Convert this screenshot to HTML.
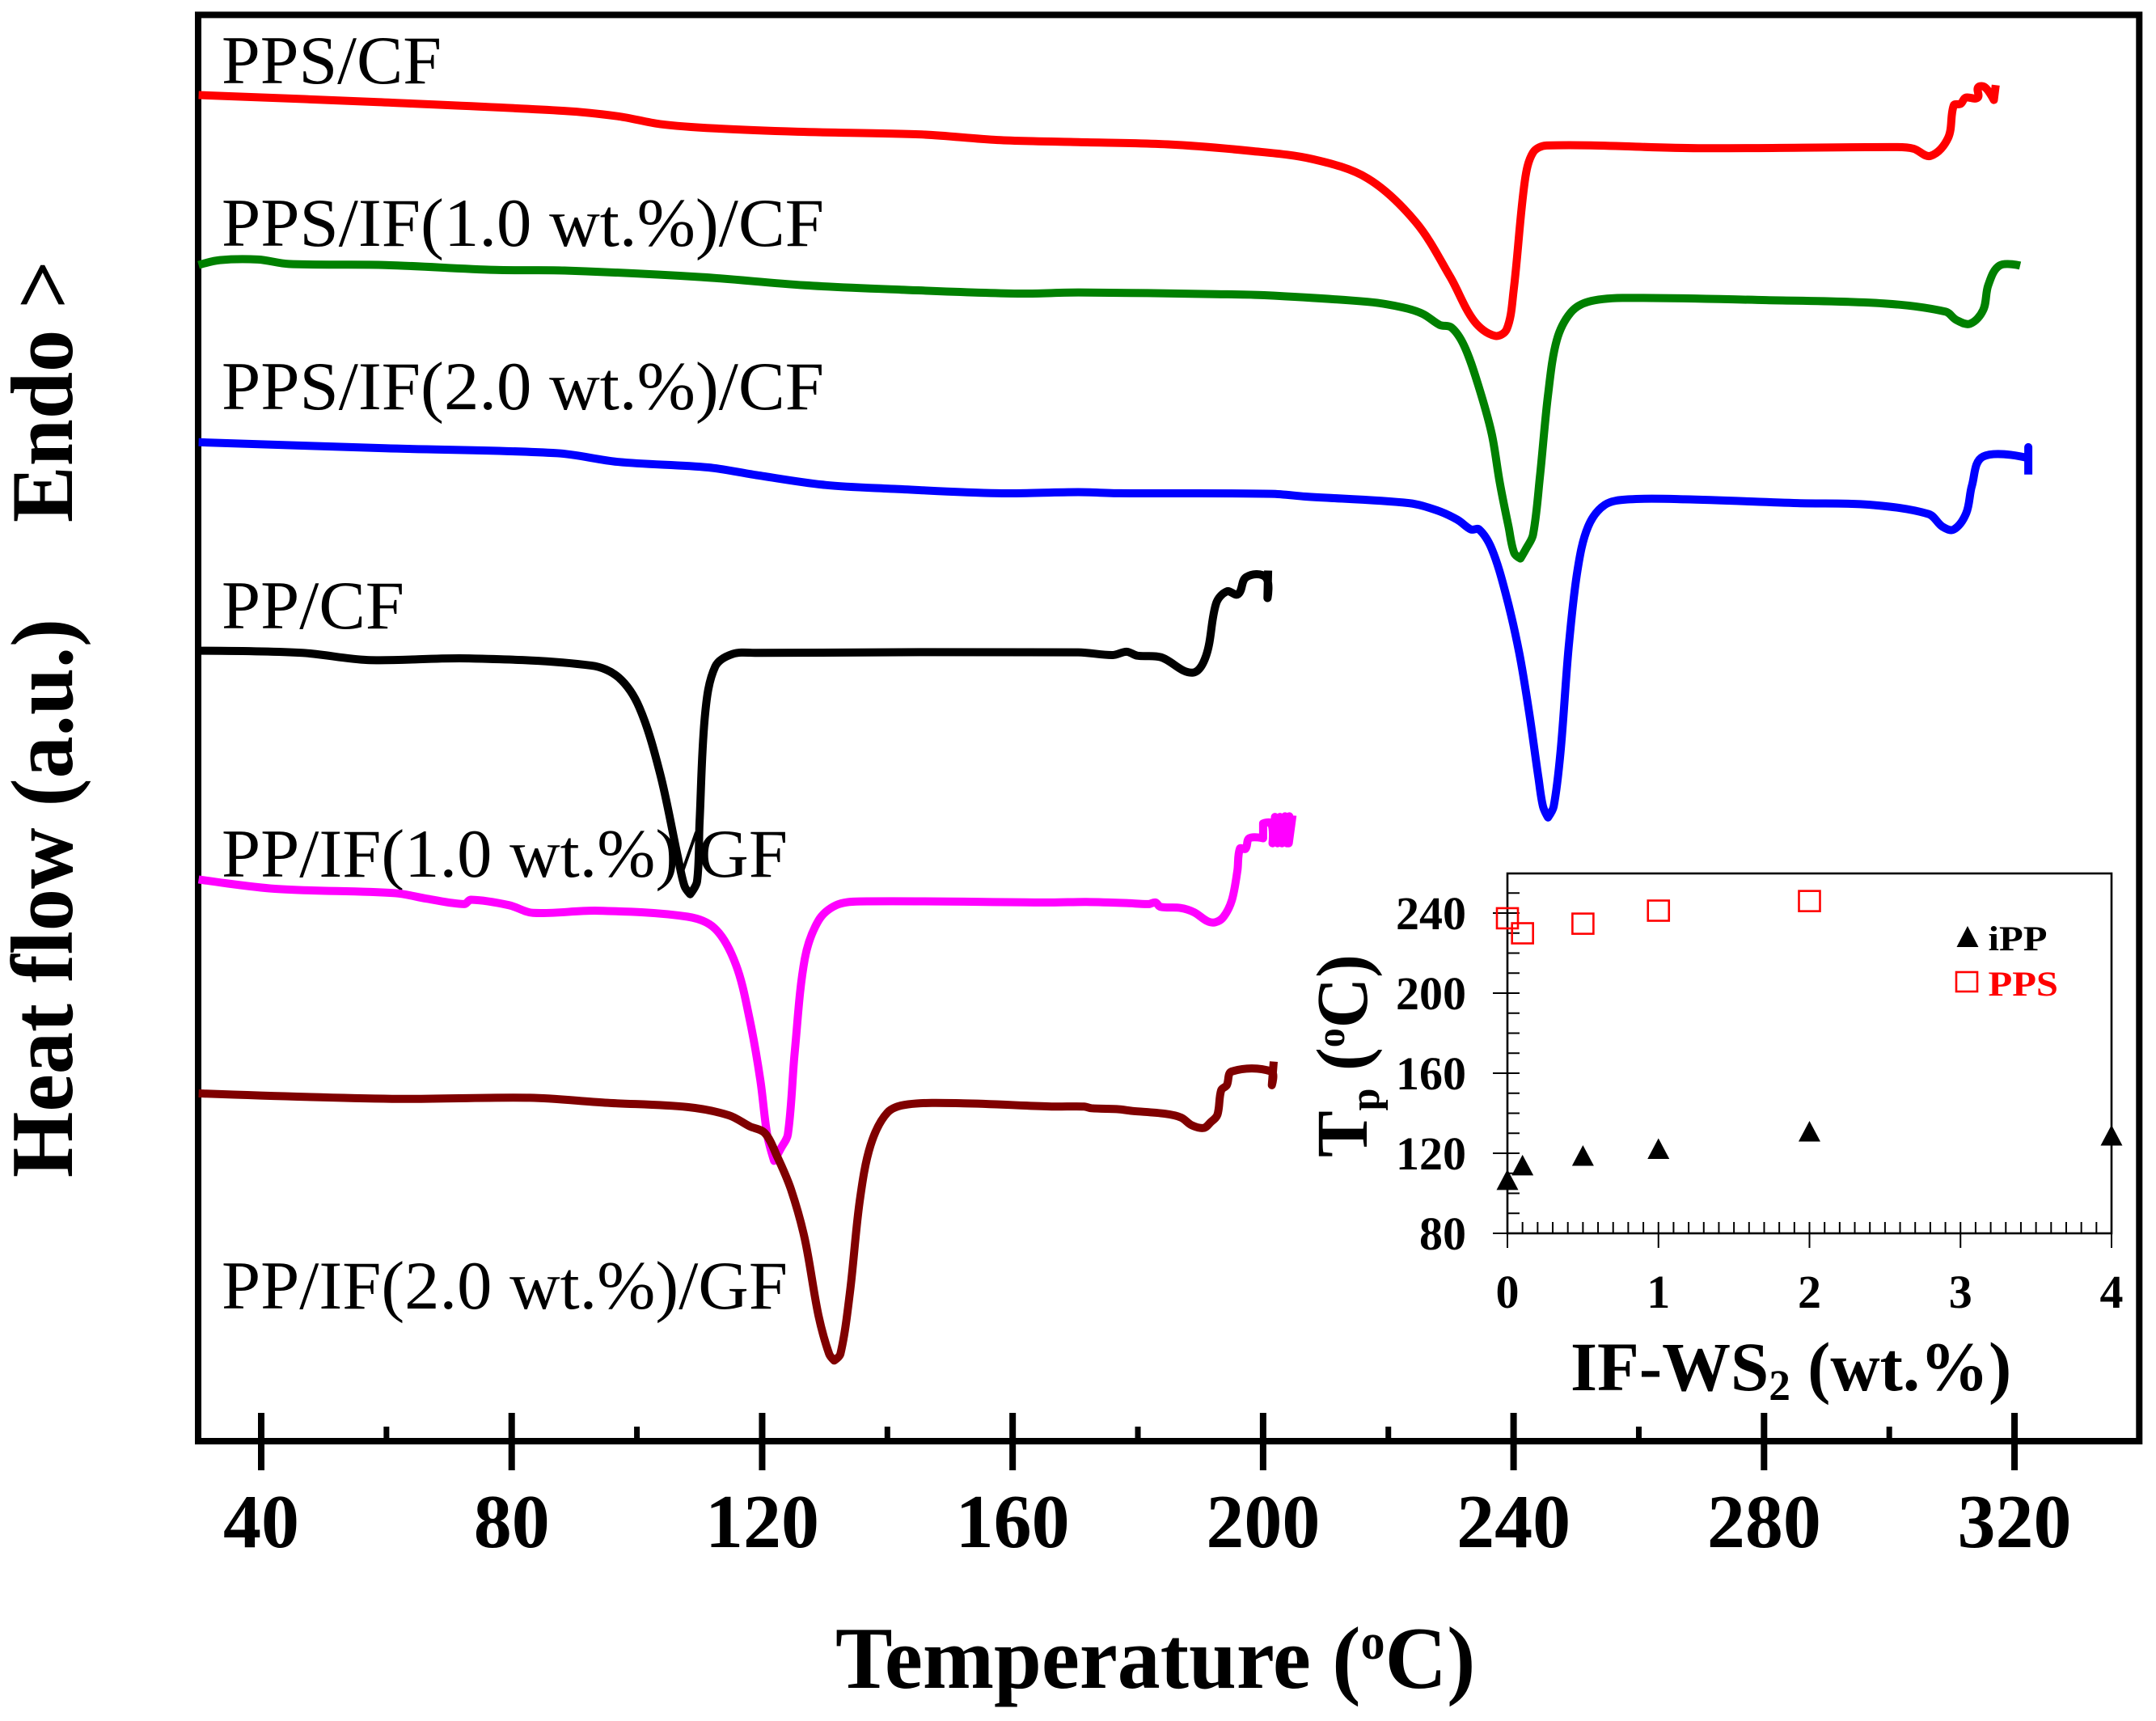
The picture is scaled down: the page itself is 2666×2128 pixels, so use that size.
<!DOCTYPE html>
<html>
<head>
<meta charset="utf-8">
<style>
html,body{margin:0;padding:0;background:#fff;}
svg{display:block;}
text{font-family:"Liberation Serif",serif;fill:#000;}
.b{font-weight:bold;}
.lab{font-size:85px;}
</style>
</head>
<body>
<svg id="chart" width="2666" height="2128" viewBox="0 0 2666 2128" xmlns="http://www.w3.org/2000/svg">
<rect x="0" y="0" width="2666" height="2128" fill="#fff"/>
<text class="lab" x="274" y="103" textLength="272" lengthAdjust="spacingAndGlyphs">PPS/CF</text>
<text class="lab" x="274" y="304" textLength="745" lengthAdjust="spacingAndGlyphs">PPS/IF(1.0 wt.%)/CF</text>
<text class="lab" x="274" y="506" textLength="745" lengthAdjust="spacingAndGlyphs">PPS/IF(2.0 wt.%)/CF</text>
<text class="lab" x="274" y="777" textLength="226" lengthAdjust="spacingAndGlyphs">PP/CF</text>
<text class="lab" x="274" y="1084" textLength="700" lengthAdjust="spacingAndGlyphs">PP/IF(1.0 wt.%)/GF</text>
<text class="lab" x="274" y="1618" textLength="700" lengthAdjust="spacingAndGlyphs">PP/IF(2.0 wt.%)/GF</text>
<g id="main-ticks"></g>
<rect x="245" y="18.4" width="2400.3" height="1763.6" fill="none" stroke="#000" stroke-width="8"/>
<g id="curves"></g>
<text class="b" transform="translate(1033,2087) scale(0.971,1)" x="0" y="0" font-size="109">Temperature (<tspan font-size="62" dy="-36">o</tspan><tspan dy="36">C)</tspan></text>
<text class="b" transform="translate(89,1456) rotate(-90)" font-size="109" textLength="691" lengthAdjust="spacingAndGlyphs">Heat flow (a.u.)</text>
<text class="b" transform="translate(89,646) rotate(-90)" font-size="109" textLength="324" lengthAdjust="spacingAndGlyphs">Endo &gt;</text>
<rect x="1864" y="1080" width="747" height="445" fill="none" stroke="#000" stroke-width="2.6"/>
<g id="inset-ticks"></g>
<g id="inset-marks"></g>
<text class="b" transform="translate(1690,1431) rotate(-90) scale(0.96,1)" font-size="90">T<tspan font-size="52" dy="15">p</tspan><tspan dy="-15"> (</tspan><tspan font-size="50" dy="-28">o</tspan><tspan dy="28">C)</tspan></text>
<text class="b" transform="translate(1942,1719) scale(0.987,1)" x="0" y="0" font-size="86">IF-WS<tspan font-size="54" dy="12">2</tspan><tspan dy="-12"> (wt.%)</tspan></text>
<polygon points="2433,1145 2446.5,1171 2419.5,1171" fill="#000"/>
<text class="b" x="2458.5" y="1175" font-size="43" textLength="73" lengthAdjust="spacingAndGlyphs">iPP</text>
<rect x="2419" y="1202" width="26" height="24" fill="none" stroke="#f00" stroke-width="2.6"/>
<text class="b" x="2458.5" y="1231" font-size="43" textLength="86.5" lengthAdjust="spacingAndGlyphs" style="fill:#f00">PPS</text>
</svg>
<script>
var redT=[30,58.7,88.4,97.1,103.7,112.5,125.7,145.5,157.6,170.5,184.8,198,207.9,216.7,224.4,229.9,233.7,237,238.9,240,241.8,243.1,245.3,269.5,301.3,303.9,306.6,309.4,310.3,311.4,312.2,314.1,314.2,315.3,316.7,317];
var redFlow=[213.4,212.1,210.5,209.5,208.1,207.3,206.7,206.2,205.2,204.8,204.4,203.2,201.7,198.2,190.2,180.2,172.2,169.5,170.7,177.7,197.7,202.9,204.2,203.7,203.9,203.6,202.3,205.6,211.5,211.8,212.9,212.9,214.8,214.8,212.5,215.2];
var greenT=[30,33.4,39.5,44.4,59.8,77.4,88.4,110.3,126.8,142.2,160.9,170.5,192.5,200.2,216.7,222.2,225.5,228.2,230.1,232.1,234.3,236.5,237.8,239.2,240.1,241.1,242,243.1,244.2,245.5,246.9,249.1,251.9,257.4,280.4,299.1,309,310.7,312.9,315,315.8,317.6,320.9];
var greenFlow=[182.4,183.3,183.4,182.6,182.4,181.5,181.4,180.2,178.7,177.9,177.2,177.4,177.1,176.9,175.7,174.7,173.5,171.5,171,167.7,160.7,151.7,142.7,134.7,129.9,128.9,130.7,133.2,143.7,158.7,168.7,173.7,175.7,176.4,176,175.4,173.9,172.4,171.7,174.2,178.7,182.3,182.3];
var blueT=[30,59.8,87.3,97.1,111.4,119.1,130.1,141.1,157.6,170.5,177.1,201.3,206.8,223.3,227.7,231,233.2,234.5,236.5,238.7,240.9,242.5,244,244.7,245.5,246.4,247.5,248.8,250.2,251.9,254.6,258.5,267.3,285.4,296.9,306.3,308.5,310.3,312.3,313.2,315,322.2,322.2,322.2];
var blueFlow=[150.1,149,148.1,146.5,145.5,144.1,142.3,141.6,140.8,141,140.8,140.7,140.2,139,137.7,136,134.2,134.2,130.7,122.7,111.7,100.7,88.7,83.7,81.7,83.7,93.7,112.7,126.7,134.7,138.7,139.7,139.7,139,138.7,137,134.7,134.2,137.2,142.2,147.5,147.2,149.2,144.2];
var blackT=[30,46.6,57,73,92.7,97.1,100.4,103.7,106.5,107.6,108.5,109.6,110,110.9,112.5,115.3,119.1,170.5,176,178.2,179.9,183.7,188.7,190.9,192.5,194.2,196,197.3,200.4,200.7,200.8];
var blackFlow=[112.1,111.7,110.4,110.7,109.4,107.2,101.7,89.7,74.7,69.2,67.7,70,80.7,100.7,109.2,111.5,111.7,111.8,111.3,111.9,111.2,110.9,108.1,111.2,120.7,122.9,122.4,125.5,125.5,121.7,126.7];
var magentaT=[30,42.2,61.4,66.4,72.4,73.5,79.6,83.4,93.8,108.1,112.5,115.8,118,119.7,120.8,121.9,123,124.1,125.2,126.8,129,131.8,135.6,166.2,171.8,178.2,181.7,182.8,183.6,186.8,189,191.1,192.4,193.7,195,195.9,196.3,197.2,197.8,200,200,201.3,201.5,201.9,202.3,202.7,203,203.5,203.8,204.2,204.1,204.7];
var magentaFlow=[70.4,68.7,67.9,66.9,65.9,66.7,65.7,64.3,64.7,63.6,61.4,54.9,44.9,33.9,23.9,19.1,21.4,23.9,38.9,55.9,62.9,65.7,66.4,66.2,66.3,66.1,65.9,66.2,65.4,65.2,64.4,62.8,62.6,63.6,66.6,72,76,76,77.9,77.9,80.6,80.6,77,81.8,77,81.8,77,81.9,77,81.9,77,82.1];
var maroonT=[30,60.9,82.9,94.9,108.1,114.7,118,120.4,122.4,124.6,126.8,129,130.7,131.5,132.5,134,135.6,137.3,140,143.3,152.1,166.2,171.4,172.6,177,179.1,184.3,186.9,188.6,190.5,191.6,192.7,193.3,194.2,195,201.3,201.4,201.7];
var maroonFlow=[31.4,30.4,30.6,29.7,28.9,27.4,25.4,24.2,19.9,13.9,4.9,-9.1,-16.1,-17.3,-16.1,-5.1,11.9,21.9,27.9,29.4,29.6,29,29,28.7,28.5,28.2,27.7,27,25.6,25.1,26.1,27.5,31.95,32.9,35.4,35.4,32.9,37.2];
var mainMajorTicks=[40,80,120,160,200,240,280,320];
var mainMinorTicks=[60,100,140,180,220,260,300];
var insetXTicks=[0,1,2,3,4];
var insetYTicks=[80,120,160,200,240];
var insetLoad=[0,0.1,0.5,1,2,4];
var ippTp=[106.7,114,118.8,122.2,130.9,128.9];
var ppsLoad=[0,0.1,0.5,1,2];
var ppsTp=[237.4,229.9,234.7,241.2,246];

var NS='http://www.w3.org/2000/svg';
function xMain(t){return 323+(t-40)*7.743;}
function yMain(v){return 1782-(v+32)*6.783;}
function xIn(w){return 1864+w*186.75;}
function yIn(t){return 1525-(t-80)*2.475;}
function mk(tag,parent){var e=document.createElementNS(NS,tag);parent.appendChild(e);return e;}
function line(parent,x1,y1,x2,y2,w){
  var l=mk('line',parent);
  l.setAttribute('x1',x1);l.setAttribute('y1',y1);l.setAttribute('x2',x2);l.setAttribute('y2',y2);
  l.setAttribute('stroke','#000');l.setAttribute('stroke-width',w);
  
  
}
function label(parent,x,y,size,anchor,str){
  var t=mk('text',parent);
  t.setAttribute('x',x);t.setAttribute('y',y);t.setAttribute('font-size',size);
  t.setAttribute('text-anchor',anchor);t.setAttribute('class','b');
  
  
  t.textContent=str;
}
var mt=document.getElementById('main-ticks');
mainMajorTicks.forEach(function(t){
  line(mt,xMain(t),1747,xMain(t),1818,8);
  label(mt,xMain(t),1913,94,'middle',String(t));
});
mainMinorTicks.forEach(function(t){line(mt,xMain(t),1764,xMain(t),1782,7);});

// Smooth path through the points; sharp reversals are kept as corners.
function tangent(a,b,c){
  var ax=b[0]-a[0],ay=b[1]-a[1],cx=c[0]-b[0],cy=c[1]-b[1];
  if(ax*cx+ay*cy<=0)return null;
  var dx=c[0]-a[0],dy=c[1]-a[1],l=Math.sqrt(dx*dx+dy*dy);
  return l?[dx/l,dy/l]:null;
}
function smoothPath(pts){
  var d='M'+pts[0][0].toFixed(1)+' '+pts[0][1].toFixed(1);
  for(var i=0;i<pts.length-1;i++){
    var p=pts[i],q=pts[i+1];
    var len=Math.sqrt(Math.pow(q[0]-p[0],2)+Math.pow(q[1]-p[1],2))*0.33;
    var t0=i>0?tangent(pts[i-1],p,q):null;
    var t1=i<pts.length-2?tangent(p,q,pts[i+2]):null;
    var c0=t0?[p[0]+t0[0]*len,p[1]+t0[1]*len]:p;
    var c1=t1?[q[0]-t1[0]*len,q[1]-t1[1]*len]:q;
    d+=' C'+c0[0].toFixed(1)+' '+c0[1].toFixed(1)+' '+c1[0].toFixed(1)+' '+c1[1].toFixed(1)+' '+q[0].toFixed(1)+' '+q[1].toFixed(1);
  }
  return d;
}
var series=[[redT,redFlow,'#ff0000','curve-pps-cf'],[greenT,greenFlow,'#008000','curve-pps-if-1'],[blueT,blueFlow,'#0000ff','curve-pps-if-2'],[blackT,blackFlow,'#000000','curve-pp-cf'],[magentaT,magentaFlow,'#ff00ff','curve-pp-if-1'],[maroonT,maroonFlow,'#800000','curve-pp-if-2']];
var cg=document.getElementById('curves');
series.forEach(function(s){
  var p=mk('path',cg);
  p.setAttribute('d',smoothPath(s[0].map(function(t,i){return [xMain(t),yMain(s[1][i])];})));
  p.setAttribute('fill','none');p.setAttribute('stroke',s[2]);p.setAttribute('stroke-width','10');p.setAttribute('stroke-linejoin','round');
  
  
});

var it=document.getElementById('inset-ticks');
insetXTicks.forEach(function(w){
  line(it,xIn(w),1525,xIn(w),1543,2);
  label(it,xIn(w),1617,58,'middle',String(w));
});
for(var i=1;i<40;i++){line(it,xIn(i/10),1511,xIn(i/10),1525,2);}
insetYTicks.forEach(function(t){
  line(it,1846,yIn(t),1864,yIn(t),2);
  label(it,1813,yIn(t)+20,58,'end',String(t));
});
for(var j=0;j<18;j++){line(it,1864,yIn(80+j*10),1879,yIn(80+j*10),2);}

var im=document.getElementById('inset-marks');
insetLoad.forEach(function(w,i){
  var c=mk('polygon',im),x=xIn(w),y=yIn(ippTp[i]);
  c.setAttribute('points',x+','+(y-13)+' '+(x+13.5)+','+(y+12.5)+' '+(x-13.5)+','+(y+12.5));
  c.setAttribute('fill','#000');
  
  
});
ppsLoad.forEach(function(w,i){
  var c=mk('rect',im),x=xIn(w),y=yIn(ppsTp[i]);
  c.setAttribute('x',x-13);c.setAttribute('y',y-12.5);c.setAttribute('width',26);c.setAttribute('height',25);
  c.setAttribute('fill','none');c.setAttribute('stroke','#f00');c.setAttribute('stroke-width','2.6');
  
  
});
</script>
</body>
</html>
